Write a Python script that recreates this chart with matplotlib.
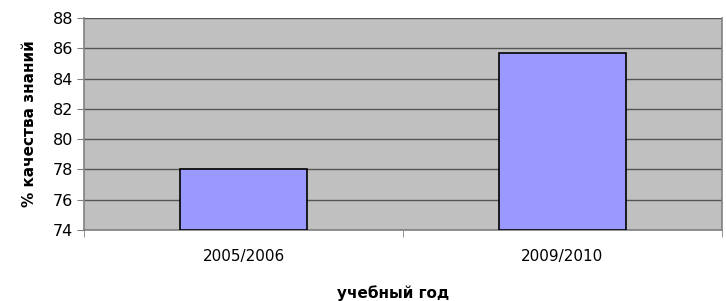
import matplotlib
matplotlib.use("Agg")
import matplotlib.pyplot as plt

categories = ["2005/2006", "2009/2010"]
values = [78.0, 85.7]
yticks = [74, 76, 78, 80, 82, 84, 86, 88]

plt.rcParams['font.family'] = ['DejaVu Sans']
fig = plt.figure(figsize=(7.26, 3.01), dpi=100)
ax = fig.add_axes([84/726, 71/301, 638/726, 212/301])
ax.set_facecolor('#C0C0C0')

x = [0, 1]
ax.bar(x, [v - 74 for v in values], bottom=74, width=0.4, color='#9999FF',
       edgecolor='black', linewidth=1.2, zorder=3)
ax.set_xlim(-0.5, 1.5)
ax.set_ylim(74, 88)
ax.set_yticks(yticks)
ax.set_yticklabels([str(t) for t in yticks], fontsize=11.5)
ax.yaxis.grid(True, color='#555555', linewidth=1.0, zorder=1)
ax.set_axisbelow(True)

ax.set_xticks(x)
ax.set_xticklabels(categories, fontsize=11)
ax.tick_params(axis='x', length=0, pad=14)
ax.set_xticks([-0.5, 0.5, 1.5], minor=True)
ax.tick_params(axis='x', which='minor', length=5, color='#808080')
ax.tick_params(axis='y', length=5, color='#808080', pad=3)

for s in ['left', 'bottom', 'right']:
    ax.spines[s].set_color('#808080')
    ax.spines[s].set_linewidth(1.2)
ax.spines['top'].set_visible(False)

ax.set_ylabel('% качества знаний', fontsize=11, fontweight='bold')
ax.yaxis.set_label_coords(-0.074, 0.5)
ax.set_xlabel('учебный год', fontsize=11, fontweight='bold')
ax.xaxis.set_label_coords(0.485, -0.30)
ax.xaxis.label.set_va('center')

fig.savefig('out.png', dpi=100)
